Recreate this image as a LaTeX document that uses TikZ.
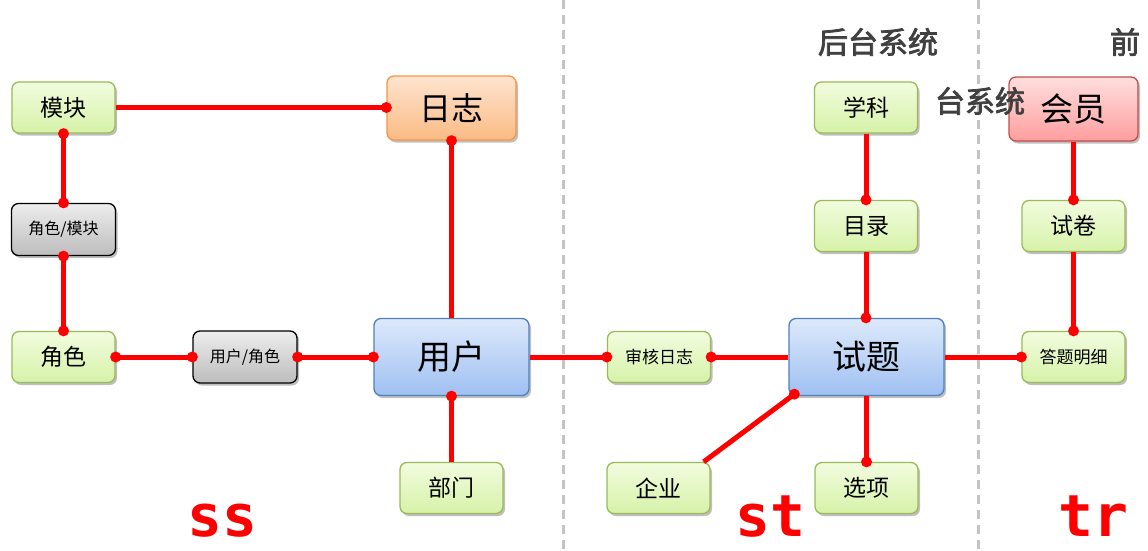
\documentclass[tikz,border=0pt]{standalone}
\usepackage{fontspec}
\newfontfamily\cjk{Noto Sans CJK SC}
\newfontfamily\cjkb{Noto Sans CJK SC}[FakeBold=2.5]
\newfontfamily\monob{DejaVu Sans Mono Bold}
\usetikzlibrary{shadows}
\definecolor{gbord}{HTML}{9BBB59}
\definecolor{gtop}{HTML}{F2FCDF}
\definecolor{gbot}{HTML}{D6F2A8}
\definecolor{btop}{HTML}{DDE9FB}
\definecolor{bbot}{HTML}{9FC0F2}
\definecolor{bbord}{HTML}{4F81BD}
\definecolor{otop}{HTML}{FDE4CF}
\definecolor{obot}{HTML}{FBBB85}
\definecolor{obord}{HTML}{F79646}
\definecolor{ptop}{HTML}{FFDEDE}
\definecolor{pbot}{HTML}{FF9E9E}
\definecolor{pbord}{HTML}{C0504D}
\definecolor{ytop}{HTML}{EDEDED}
\definecolor{ybot}{HTML}{BDBDBD}
\definecolor{dash}{HTML}{C4C4C4}
\definecolor{title}{HTML}{404040}
\tikzset{
  box/.style={rounded corners=7pt, line width=1.3pt, inner sep=0pt, text=black,
    drop shadow={shadow xshift=2pt, shadow yshift=-2.5pt, opacity=0.25, fill=black}},
  gbox/.style={box, draw=gbord, top color=gtop, bottom color=gbot,
    minimum width=103pt, minimum height=51pt, font=\cjk\fontsize{23}{23}\selectfont},
  gsmall/.style={gbox, font=\cjk\fontsize{17}{17}\selectfont},
  ybox/.style={box, draw=black, top color=ytop, bottom color=ybot,
    minimum width=104pt, minimum height=52pt, font=\cjk\fontsize{16}{16}\selectfont},
  bbox/.style={box, draw=bbord, top color=btop, bottom color=bbot,
    minimum width=155pt, minimum height=77pt, font=\cjk\fontsize{34}{34}\selectfont},
  obox/.style={box, draw=obord, top color=otop, bottom color=obot,
    minimum width=129pt, minimum height=64pt, font=\cjk\fontsize{32}{32}\selectfont},
  pbox/.style={box, draw=pbord, top color=ptop, bottom color=pbot,
    minimum width=129pt, minimum height=64pt, font=\cjk\fontsize{33}{33}\selectfont},
  conn/.style={draw=red, line width=5pt},
  sep/.style={draw=dash, line width=3pt, dash pattern=on 9pt off 6pt},
  ttl/.style={text=title, font=\cjkb\fontsize{30}{30}\selectfont, inner sep=0pt},
  big/.style={text=red, font=\monob\fontsize{58}{58}\selectfont, inner sep=0pt,
    anchor=base, text depth=0pt}
}
\newcommand{\dotat}[1]{\fill[red] (#1) circle (5.5pt);}
\begin{document}
\begin{tikzpicture}[x=1pt,y=-1pt]
\useasboundingbox (0,0) rectangle (1148,551);
\fill[white] (0,0) rectangle (1148,551);
% separators
\coordinate (s1a) at (563,0); \coordinate (s1b) at (563,551);
\coordinate (s2a) at (978,0); \coordinate (s2b) at (978,551);
\draw[sep] (s1a) -- (s1b);
\draw[sep] (s2a) -- (s2b);
% nodes
\node[gbox] (mk) at (63.5,107.5) {模块};
\node[obox] (rz) at (451.5,108) {日志};
\node[ybox] (jsmk) at (63.5,229.5) {角色/模块};
\node[gbox] (js) at (63.5,357) {角色};
\node[ybox] (yhjs) at (245,357) {用户/角色};
\node[bbox] (yh) at (451.5,357) {用户};
\node[gbox] (bm) at (451.5,488) {部门};
\node[gsmall] (shrz) at (659,357) {审核日志};
\node[bbox] (st) at (866.5,357) {试题};
\node[gbox] (qy) at (658.5,488) {企业};
\node[gbox] (xx) at (866.5,488) {选项};
\node[gbox] (xk) at (866,107.5) {学科};
\node[gbox] (ml) at (866,226) {目录};
\node[pbox] (hy) at (1073.5,109) {会员};
\node[gbox] (sj) at (1073.5,226) {试卷};
\node[gsmall] (dtmx) at (1073.5,357) {答题明细};
% connectors
\draw[conn] (mk.east) -- (mk.east -| rz.west); \dotat{mk.east -| rz.west}
\draw[conn] (rz.south) -- (yh.north); \dotat{rz.south}
\draw[conn] (mk.south) -- (jsmk.north); \dotat{mk.south} \dotat{jsmk.north}
\draw[conn] (jsmk.south) -- (js.north); \dotat{jsmk.south} \dotat{js.north}
\draw[conn] (js.east) -- (yhjs.west); \dotat{js.east} \dotat{yhjs.west}
\draw[conn] (yhjs.east) -- (yh.west); \dotat{yhjs.east} \dotat{yh.west}
\draw[conn] (yh.south) -- (bm.north); \dotat{yh.south}
\draw[conn] (yh.east) -- (shrz.west); \dotat{shrz.west}
\draw[conn] (shrz.east) -- (st.west); \dotat{shrz.east}
\coordinate (qyc) at ([xshift=-7pt]qy.north east);
\coordinate (stc) at ([xshift=6pt,yshift=2pt]st.south west);
\draw[conn] (qyc) -- (stc); \dotat{stc}
\draw[conn] (st.south) -- (xx.north); \dotat{xx.north}
\draw[conn] (xk.south) -- (ml.north); \dotat{ml.north}
\draw[conn] (ml.south) -- (ml.south |- st.north); \dotat{ml.south |- st.north}
\draw[conn] (st.east) -- (dtmx.west); \dotat{dtmx.west}
\draw[conn] (hy.south) -- (sj.north); \dotat{sj.north}
\draw[conn] (sj.south) -- (dtmx.north); \dotat{dtmx.north}
% titles
\node[ttl] (t1) at (878,42) {后台系统};
\node[ttl] (t2) at (1125,42) {前};
\node[ttl] (t3) at (980,101) {台系统};
% labels
\node[big] (lss) at (222,536) {ss};
\node[big] (lst) at (770,536) {st};
\node[big] (ltr) at (1093,536) {tr};
\end{tikzpicture}
\end{document}
